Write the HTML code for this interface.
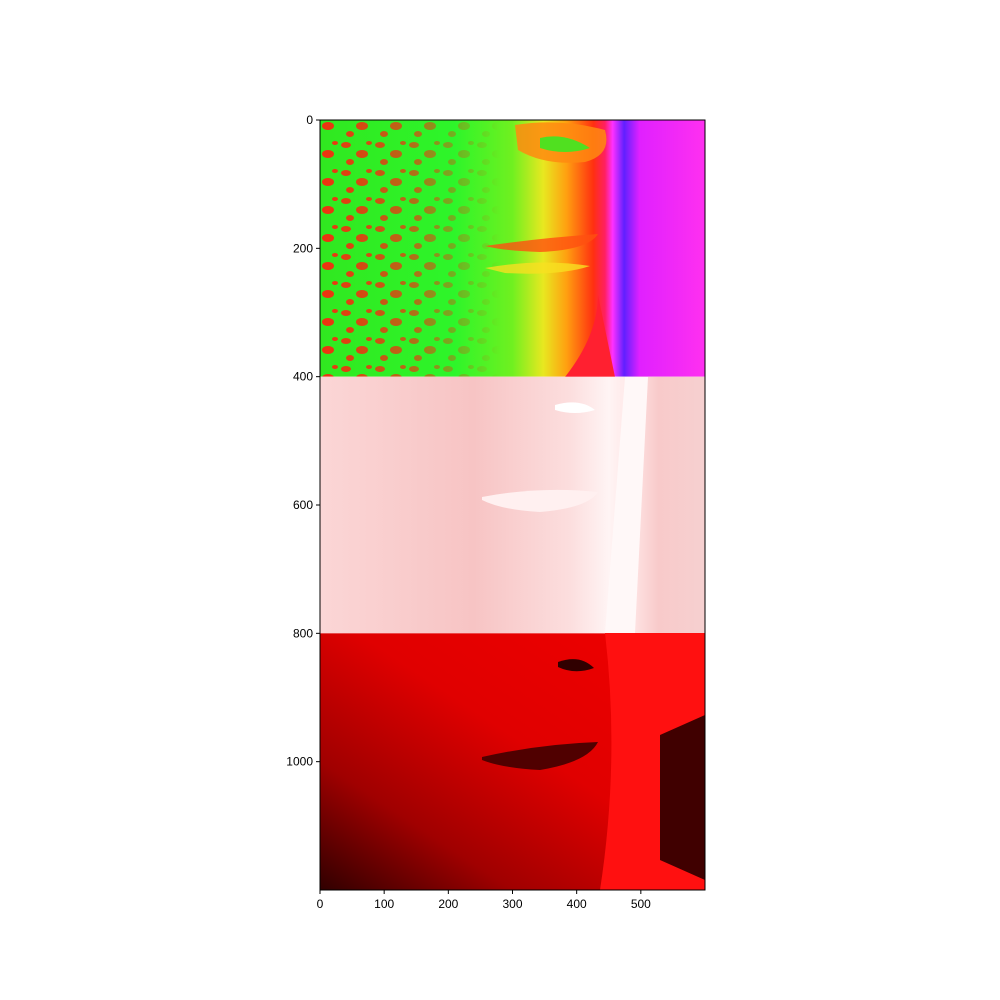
<!DOCTYPE html>
<html><head><meta charset="utf-8"><style>
html,body{margin:0;padding:0;background:#fff;width:1000px;height:1000px;overflow:hidden}
svg text{font-family:"Liberation Sans","DejaVu Sans",sans-serif;font-size:12px;fill:#000}
</style></head><body>
<svg id="chart" width="1000" height="1000" viewBox="0 0 1000 1000">
<defs>
<linearGradient id="topG" x1="0" x2="1" y1="0" y2="0">
<stop offset="0" stop-color="#30e820"/><stop offset="0.35" stop-color="#2ef52a"/><stop offset="0.5" stop-color="#70f020"/>
<stop offset="0.58" stop-color="#e8e820"/><stop offset="0.64" stop-color="#ffa010"/><stop offset="0.71" stop-color="#ff3010"/>
<stop offset="0.74" stop-color="#ff2060"/><stop offset="0.76" stop-color="#ff30ff"/><stop offset="0.79" stop-color="#6020ff"/>
<stop offset="0.83" stop-color="#e020ff"/><stop offset="1" stop-color="#ff30f0"/></linearGradient>
<linearGradient id="midG" x1="0" x2="1" y1="0" y2="0">
<stop offset="0" stop-color="#fbd6d6"/><stop offset="0.4" stop-color="#f7c4c4"/><stop offset="0.65" stop-color="#fcdede"/>
<stop offset="0.75" stop-color="#fff4f4"/><stop offset="0.8" stop-color="#ffe8e8"/><stop offset="0.88" stop-color="#f8caca"/><stop offset="1" stop-color="#f6d0d0"/></linearGradient>
<linearGradient id="botG" x1="1" x2="0" y1="0" y2="1">
<stop offset="0" stop-color="#f00000"/><stop offset="0.45" stop-color="#e00000"/><stop offset="0.75" stop-color="#a00000"/><stop offset="1" stop-color="#300000"/></linearGradient>
<pattern id="speck" width="34" height="28" patternUnits="userSpaceOnUse">
<rect width="34" height="28" fill="none"/>
<ellipse cx="6" cy="5" rx="5" ry="3" fill="#f03010"/><ellipse cx="22" cy="14" rx="6" ry="4" fill="#f03010"/>
<ellipse cx="10" cy="22" rx="4" ry="3" fill="#f03010"/><ellipse cx="29" cy="3" rx="3" ry="2" fill="#f03010"/></pattern>
<linearGradient id="speckFade" x1="0" x2="1"><stop offset="0" stop-color="#fff"/><stop offset="0.5" stop-color="#fff" stop-opacity="0.7"/><stop offset="1" stop-color="#fff" stop-opacity="0"/></linearGradient>
<mask id="fadeMask"><rect x="320" y="120" width="180" height="257" fill="url(#speckFade)"/></mask>
</defs>
<g id="panels"></g>
<g id="axes"></g>
</svg>
<script>
const xTicks=[0,100,200,300,400,500];
const yTicks=[0,200,400,600,800,1000];
const xMax=600, yMax=1200;
const X0=320,X1=705,Y0=120,Y1=890;
const sx=v=>X0+(X1-X0)*v/xMax;
const sy=v=>Y0+(Y1-Y0)*v/yMax;
const NS="http://www.w3.org/2000/svg";
function mk(tag,attrs,parent){const e=document.createElementNS(NS,tag);for(const k in attrs)e.setAttribute(k,attrs[k]);parent.appendChild(e);return e;}
const P=document.getElementById('panels');
let r=mk('rect',{x:sx(0),y:sy(0),width:sx(600)-sx(0),height:sy(400)-sy(0),fill:'url(#topG)'},P);


let s=mk('rect',{x:sx(0),y:sy(0),width:180,height:sy(400)-sy(0),fill:'url(#speck)',mask:'url(#fadeMask)'},P);


mk('path',{d:`M515 125 Q560 118 605 130 Q612 155 585 162 Q545 166 518 150Z`,fill:'#ff8a10',opacity:0.85},P);
mk('path',{d:`M540 138 Q565 132 590 148 Q565 156 540 148Z`,fill:'#50e020'},P);
mk('path',{d:`M485 246 Q540 238 598 234 Q588 250 540 252 Q505 251 485 246Z`,fill:'#ff5010',opacity:0.8},P);
mk('path',{d:`M485 268 Q540 258 590 266 Q560 276 505 273Z`,fill:'#f8e020',opacity:0.8},P);
mk('path',{d:`M565 377 Q598 335 598 295 L615 377Z`,fill:'#ff2030'},P);
r=mk('rect',{x:sx(0),y:sy(400),width:sx(600)-sx(0),height:sy(800)-sy(400),fill:'url(#midG)'},P);


mk('path',{d:`M555 405 Q580 398 595 410 Q575 416 555 410Z`,fill:'#fff'},P);
mk('path',{d:`M482 497 Q540 486 598 492 Q588 508 540 512 Q502 510 482 500Z`,fill:'#fff0f0'},P);
mk('path',{d:`M625 377 L648 377 L635 633 L605 633Z`,fill:'#fff8f8'},P);
r=mk('rect',{x:sx(0),y:sy(800),width:sx(600)-sx(0),height:sy(1200)-sy(800),fill:'url(#botG)'},P);


mk('path',{d:`M605 633 L705 633 L705 890 L600 890 Q620 760 605 633Z`,fill:'#ff1010'},P);
mk('path',{d:`M660 735 L705 715 L705 880 L660 860Z`,fill:'#400000'},P);
mk('path',{d:`M558 662 Q580 654 594 668 Q575 675 558 667Z`,fill:'#300000'},P);
mk('path',{d:`M482 757 Q540 744 598 742 Q588 762 540 770 Q502 768 482 760Z`,fill:'#500000'},P);
const A=document.getElementById('axes');
r=mk('rect',{x:X0,y:Y0,width:X1-X0,height:Y1-Y0,fill:'none',stroke:'#000','stroke-width':1},A);


xTicks.forEach(v=>{const x=sx(v);
 let t=mk('line',{x1:x,x2:x,y1:Y1,y2:Y1+4,stroke:'#000'},A);
 
 
 let l=mk('text',{x:x,y:Y1+18,'text-anchor':'middle'},A);l.textContent=v;
 
 });
yTicks.forEach(v=>{const y=sy(v);
 let t=mk('line',{x1:X0-4,x2:X0,y1:y,y2:y,stroke:'#000'},A);
 
 
 let l=mk('text',{x:X0-7,y:y+4,'text-anchor':'end'},A);l.textContent=v;
 
 });
</script>
</body></html>
